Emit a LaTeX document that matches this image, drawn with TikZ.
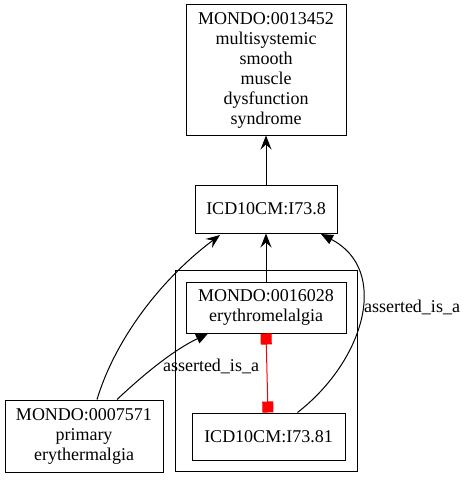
\documentclass[tikz,border=0pt]{standalone}
\usepackage{fontspec}
\setmainfont{Liberation Serif}
\usetikzlibrary{arrows.meta}
\begin{document}
\begin{tikzpicture}[x=1pt,y=-1pt,
  box/.style={draw,line width=1pt,inner sep=0pt,align=center,font=\fontsize{18}{20}\selectfont},
  lbl/.style={font=\fontsize{18}{20}\selectfont,inner sep=0pt},
  vee/.style={-{Stealth[length=14pt,width=11pt,inset=5pt]},line width=1pt},
  tri/.style={-{Triangle[length=12pt,width=10pt]},line width=1pt}]
\useasboundingbox (0,0) rectangle (467,487);
\draw[line width=1pt] (175,270) rectangle (357,471);
\node[box,minimum width=160pt,minimum height=130pt] (top) at (266,70)
  {MONDO:0013452\\multisystemic\\smooth\\muscle\\dysfunction\\syndrome};
\node[box,minimum width=142pt,minimum height=48pt] (i738) at (266,209) {ICD10CM:I73.8};
\node[box,minimum width=160pt,minimum height=51pt] (m16) at (266,307.5) {MONDO:0016028\\erythromelalgia};
\node[box,minimum width=153pt,minimum height=47pt] (i7381) at (268.5,436.5) {ICD10CM:I73.81};
\node[box,minimum width=158pt,minimum height=72pt] (m75) at (84,436) {MONDO:0007571\\primary\\erythermalgia};
\draw[vee] (i738.north) -- (top.south);
\draw[vee] (m16.north) -- (i738.south);
\draw[vee] ([xshift=13pt]m75.north) .. controls (115,340) and (160,280) .. (220,235);
\draw[tri] ([xshift=33pt]m75.north) .. controls (140,378) and (170,352) .. (208,333.5);
\node[lbl] (l1) at (211,366) {asserted\_is\_a};
\draw[tri] ([xshift=29pt]i7381.north) .. controls (365,360) and (390,270) .. (321,234);
\node[lbl] (l2) at (412,307) {asserted\_is\_a};
\draw[red,line width=1pt,{Square[length=11pt,width=11pt]}-{Square[length=11pt,width=11pt]}] (m16.south) -- ([xshift=-0.5pt]i7381.north);
\end{tikzpicture}
\end{document}
